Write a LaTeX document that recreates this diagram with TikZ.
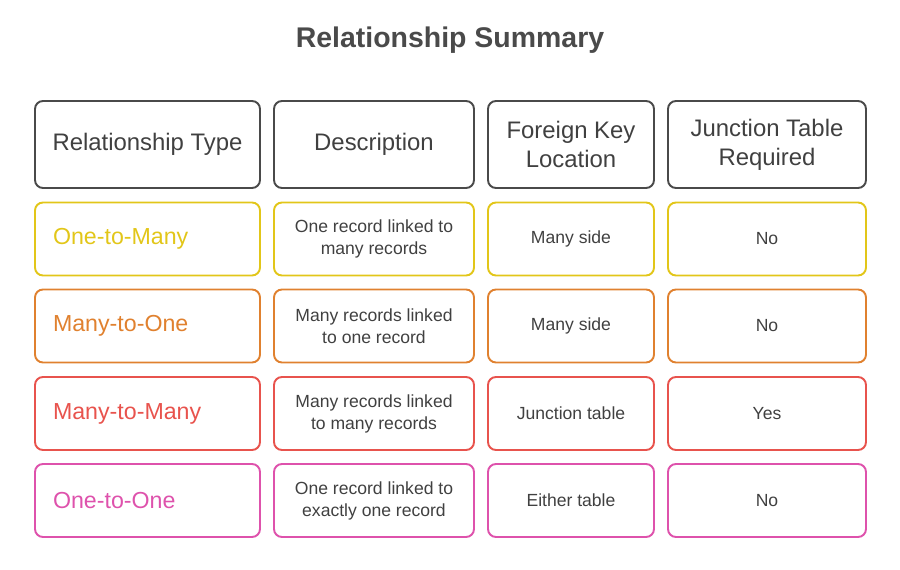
\documentclass[tikz,border=0pt]{standalone}
\usepackage{fontspec}
\setmainfont{Liberation Sans}
\definecolor{ink}{HTML}{404040}
\definecolor{headline}{HTML}{4A4A4A}
\definecolor{oneMany}{HTML}{E2C619}
\definecolor{manyOne}{HTML}{E0812F}
\definecolor{manyMany}{HTML}{E8534D}
\definecolor{oneOne}{HTML}{DE52AC}
\tikzset{
  cell/.style={draw, rounded corners=4.5pt, line width=1.1pt, align=center, text=ink, inner sep=0pt},
  headcell/.style={cell, draw=headline, minimum height=1.74cm, font=\fontsize{13.6}{16.4}\selectfont},
  rowcell/.style={cell, minimum height=1.46cm, font=\fontsize{10}{12.5}\selectfont},
  kindcell/.style={rowcell, minimum width=4.5cm, text width=3.78cm, align=left, font=\fontsize{13.2}{15}\selectfont}
}
\begin{document}
\begin{tikzpicture}[x=0.02cm,y=-0.02cm]
\useasboundingbox (0,0) rectangle (900,570);
\node[font=\bfseries\fontsize{16.2}{19}\selectfont, text=headline] (title) at (450,40) {Relationship Summary};
% header row
\node[headcell, minimum width=4.5cm] (h1) at (147.5,144.5) {Relationship Type};
\node[headcell, minimum width=4cm] (h2) at (374,144.5) {Description};
\node[headcell, minimum width=3.32cm] (h3) at (571,144.5) {Foreign Key\\Location};
\node[headcell, minimum width=3.96cm] (h4) at (767,144.5) {Junction Table\\Required};
% one-to-many
\node[kindcell, draw=oneMany, text=oneMany] (a1) at (147.5,239) {One-to-Many};
\node[rowcell, draw=oneMany, minimum width=4cm] (a2) at (374,239) {One record linked to\\many records};
\node[rowcell, draw=oneMany, minimum width=3.32cm] (a3) at (571,239) {Many side};
\node[rowcell, draw=oneMany, minimum width=3.96cm] (a4) at (767,239) {No};
% many-to-one
\node[kindcell, draw=manyOne, text=manyOne] (b1) at (147.5,326) {Many-to-One};
\node[rowcell, draw=manyOne, minimum width=4cm] (b2) at (374,326) {Many records linked\\to one record};
\node[rowcell, draw=manyOne, minimum width=3.32cm] (b3) at (571,326) {Many side};
\node[rowcell, draw=manyOne, minimum width=3.96cm] (b4) at (767,326) {No};
% many-to-many
\node[kindcell, draw=manyMany, text=manyMany] (c1) at (147.5,413.5) {Many-to-Many};
\node[rowcell, draw=manyMany, minimum width=4cm] (c2) at (374,413.5) {Many records linked\\to many records};
\node[rowcell, draw=manyMany, minimum width=3.32cm] (c3) at (571,413.5) {Junction table};
\node[rowcell, draw=manyMany, minimum width=3.96cm] (c4) at (767,413.5) {Yes};
% one-to-one
\node[kindcell, draw=oneOne, text=oneOne] (d1) at (147.5,500.5) {One-to-One};
\node[rowcell, draw=oneOne, minimum width=4cm] (d2) at (374,500.5) {One record linked to\\exactly one record};
\node[rowcell, draw=oneOne, minimum width=3.32cm] (d3) at (571,500.5) {Either table};
\node[rowcell, draw=oneOne, minimum width=3.96cm] (d4) at (767,500.5) {No};
\end{tikzpicture}
\end{document}
